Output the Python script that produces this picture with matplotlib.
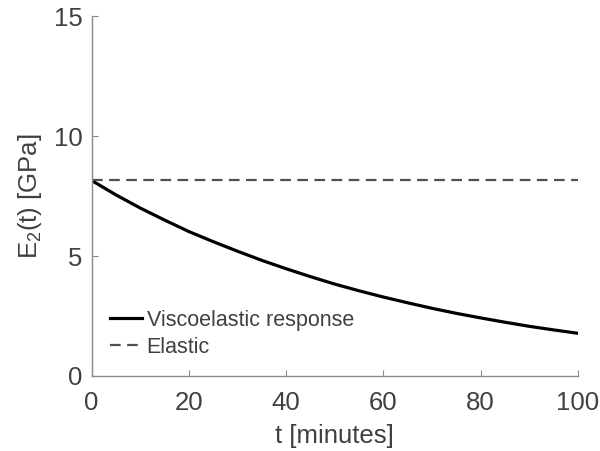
import matplotlib.pyplot as plt

plt.rcParams['font.family'] = ['Liberation Sans', 'DejaVu Sans']
plt.rcParams['mathtext.fontset'] = 'custom'
plt.rcParams['mathtext.rm'] = 'Liberation Sans'
plt.rcParams['mathtext.it'] = 'Liberation Sans'

# values
t = [0, 5, 10, 15, 20, 25, 30, 35, 40, 45, 50, 55, 60, 65, 70, 75, 80, 85, 90, 95, 100]
visco = [8.15, 7.55, 7.0, 6.5, 6.02, 5.6, 5.2, 4.82, 4.47, 4.14, 3.83, 3.55, 3.29,
         3.05, 2.82, 2.61, 2.42, 2.24, 2.07, 1.92, 1.78]
elastic = [8.15] * len(t)

xticks = [0, 20, 40, 60, 80, 100]
yticks = [0, 5, 10, 15]

fig = plt.figure(figsize=(6, 4.51), dpi=100)
ax = fig.add_axes([0.1525, 0.1663, 0.8108, 0.7982])

ax.plot(t, visco, color='black', lw=2.3, label='Viscoelastic response')
line, = ax.plot(t, elastic, color='#505050', lw=1.6, label='Elastic')
line.set_dashes([4.8, 2.9])

ax.set_xlim(0, 100)
ax.set_ylim(0, 15)
ax.set_xticks(xticks)
ax.set_yticks(yticks)

for s in ['top', 'right']:
    ax.spines[s].set_visible(False)
for s in ['left', 'bottom']:
    ax.spines[s].set_color('#8a8a8a')
    ax.spines[s].set_linewidth(1.0)
ax.tick_params(direction='in', length=4, color='#8a8a8a', labelsize=18.5,
               labelcolor='#404040')
ax.tick_params(axis='x', pad=11)
ax.tick_params(axis='y', pad=6.5)

ax.set_xlabel('t [minutes]', fontsize=18.5, color='#404040', labelpad=6)
ax.set_ylabel(r'E$_2$(t) [GPa]', fontsize=18.5, color='#404040', labelpad=7)

leg = ax.legend(loc='lower left', bbox_to_anchor=(0.038, 0.05), frameon=False,
                fontsize=15.5, handlelength=1.5, handletextpad=0.2,
                labelspacing=0.3, borderaxespad=0, borderpad=0)
for txt in leg.get_texts():
    txt.set_color('#404040')

fig.savefig('out.png', dpi=100)
